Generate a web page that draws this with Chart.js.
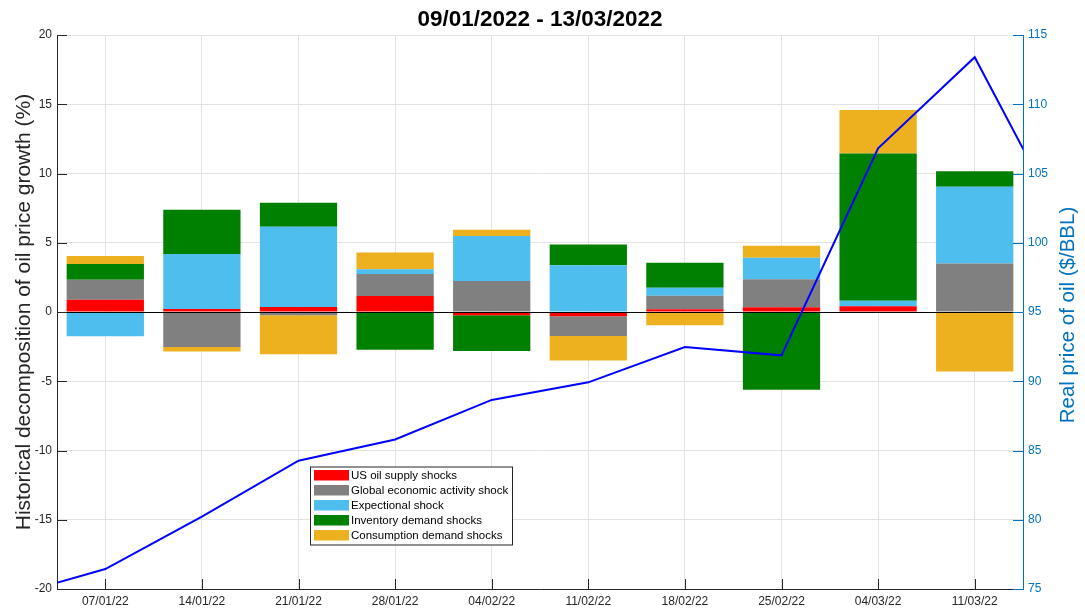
<!DOCTYPE html>
<html>
<head>
<meta charset="utf-8">
<script src="https://cdn.jsdelivr.net/npm/chart.js@4.4.1/dist/chart.umd.min.js"></script>
<style>
html,body{margin:0;padding:0;background:#fff;}
#wrap{width:1085px;height:609px;}
</style>
</head>
<body>
<div id="wrap"><canvas id="c" width="1085" height="609"></canvas></div>
<script>
// ---- data ----
const chartTitle = '09/01/2022 - 13/03/2022';
const weeks = ['07/01/22','14/01/22','21/01/22','28/01/22','04/02/22','11/02/22','18/02/22','25/02/22','04/03/22','11/03/22'];
const usSupply       = [0.89, 0.22, 0.36, 1.15, -0.24, -0.31, 0.19, 0.34, 0.41, 0.00];
const globalActivity = [1.44, -2.52, -0.24, 1.59, 2.24, -1.42, 0.99, 2.02, 0.00, 3.51];
const expectational  = [-1.75, 3.96, 5.79, 0.34, 3.24, 3.37, 0.57, 1.56, 0.41, 5.53];
const inventory      = [1.13, 3.20, 1.73, -2.72, -2.57, 1.51, 1.81, -5.62, 10.62, 1.13];
const consumption    = [0.58, -0.34, -2.81, 1.22, 0.46, -1.78, -0.96, 0.86, 3.15, -4.30];
const seriesNames = ['US oil supply shocks','Global economic activity shock','Expectional shock','Inventory demand shocks','Consumption demand shocks'];
const priceWeeks  = [-1, 0, 1, 2, 3, 4, 5, 6, 7, 8, 9, 10];
const priceValues = [74.46, 76.44, 80.22, 84.26, 85.80, 88.65, 89.92, 92.47, 91.87, 106.82, 113.40, 100.20];
const leftTickStep = 5, leftMin = -20, leftMax = 20;
const rightMin = 75, rightMax = 115;
const leftTitle = 'Historical decomposition of oil price growth (%)';
const rightTitle = 'Real price of oil ($/BBL)';

// ---- styles ----
const FONT = "'Liberation Sans', Arial, Helvetica, sans-serif";
const AX = '#262626';
const BLUE_AX = '#0072BD';
const GRID = '#e3e3e3';
const colors = ['#FF0000', '#808080', '#4DBEEE', '#008000', '#EDB120'];
Chart.defaults.font.family = FONT;

const barSeries = [usSupply, globalActivity, expectational, inventory, consumption];
const datasets = barSeries.map((vals, i) => ({
  type: 'bar',
  label: seriesNames[i],
  data: vals,
  backgroundColor: colors[i],
  borderWidth: 0,
  barPercentage: 0.8,
  categoryPercentage: 1.0,
  grouped: false,
  stack: 'shocks',
  xAxisID: 'x',
  yAxisID: 'y',
  order: 1
}));
datasets.push({
  type: 'line',
  label: 'Real price of oil',
  data: priceWeeks.map((w, i) => ({x: w, y: priceValues[i]})),
  borderColor: '#0000FF',
  borderWidth: 2,
  pointRadius: 0,
  tension: 0,
  fill: false,
  xAxisID: 'xLine',
  yAxisID: 'yR',
  order: 0
});

const baselinePlugin = {
  id: 'baseline',
  afterDatasetDraw(chart, args) {
    if (args.index !== 0) return;
    const {ctx, chartArea: a, scales} = chart;
    const y = Math.round(scales.y.getPixelForValue(0)) + 0.5;
    ctx.save();
    ctx.strokeStyle = '#000';
    ctx.lineWidth = 1.2;
    ctx.beginPath(); ctx.moveTo(a.left, y); ctx.lineTo(a.right, y); ctx.stroke();
    ctx.restore();
  }
};

const decorPlugin = {
  id: 'decor',
  afterDraw(chart) {
    const {ctx, chartArea: a, scales} = chart;
    ctx.save();
    ctx.lineWidth = 1;
    const TL = 10;
    ctx.strokeStyle = AX;
    scales.y.ticks.forEach(t => {
      const y = Math.round(scales.y.getPixelForValue(t.value)) + 0.5;
      ctx.beginPath(); ctx.moveTo(a.left, y); ctx.lineTo(a.left + TL, y); ctx.stroke();
    });
    scales.x.ticks.forEach((t, i) => {
      const x = Math.round(scales.x.getPixelForTick(i)) + 0.5;
      ctx.beginPath(); ctx.moveTo(x, a.bottom); ctx.lineTo(x, a.bottom - TL); ctx.stroke();
    });
    ctx.strokeStyle = BLUE_AX;
    scales.yR.ticks.forEach(t => {
      const y = Math.round(scales.yR.getPixelForValue(t.value)) + 0.5;
      ctx.beginPath(); ctx.moveTo(a.right, y); ctx.lineTo(a.right - TL, y); ctx.stroke();
    });
    // right axis title (reads bottom to top)
    ctx.fillStyle = BLUE_AX;
    ctx.font = '20.5px ' + FONT;
    ctx.textAlign = 'center';
    ctx.textBaseline = 'middle';
    ctx.translate(a.right + 45, (a.top + a.bottom) / 2 + 3);
    ctx.rotate(-Math.PI / 2);
    ctx.fillText(rightTitle, 0, 0);
    ctx.restore();

    // legend box
    ctx.save();
    const lx = a.left + 253.5, ly = a.top + 432, lw = 202, lh = 78;
    ctx.fillStyle = '#fff';
    ctx.fillRect(lx, ly, lw, lh);
    ctx.strokeStyle = AX;
    ctx.lineWidth = 1;
    ctx.strokeRect(lx, ly, lw, lh);
    ctx.font = '11.5px ' + FONT;
    ctx.textAlign = 'left';
    ctx.textBaseline = 'middle';
    chart.data.datasets.forEach((ds, i) => {
      if (ds.type !== 'bar') return;
      const ry = ly + 3 + i * 15;
      ctx.fillStyle = ds.backgroundColor;
      ctx.fillRect(lx + 3.5, ry, 35, 10.5);
      ctx.fillStyle = '#000';
      ctx.fillText(ds.label, lx + 40.5, ry + 5.5);
    });
    ctx.restore();
  }
};

new Chart(document.getElementById('c'), {
  data: { labels: weeks, datasets },
  options: {
    responsive: false,
    animation: false,
    layout: { padding: 0 },
    plugins: {
      legend: { display: false },
      tooltip: { enabled: false },
      title: {
        display: true,
        text: chartTitle,
        fullSize: false,
        color: '#000',
        font: { size: 22.5, weight: 'bold', family: FONT, lineHeight: 1.2 },
        padding: { top: 6, bottom: 2 }
      }
    },
    scales: {
      x: {
        type: 'category',
        stacked: true,
        offset: true,
        grid: { offset: false, color: GRID, drawTicks: false },
        border: { color: AX },
        ticks: { color: AX, font: { size: 12 }, padding: 5, maxRotation: 0, autoSkip: false },
        afterFit: s => { s.height = 20; }
      },
      xLine: {
        type: 'linear',
        display: false,
        offset: false,
        min: -0.5,
        max: weeks.length - 0.5
      },
      y: {
        position: 'left',
        stacked: true,
        min: leftMin,
        max: leftMax,
        grid: { color: GRID, drawTicks: false },
        border: { color: AX },
        ticks: { stepSize: leftTickStep, color: AX, font: { size: 12 }, padding: 5 },
        title: { display: true, text: leftTitle, color: AX, font: { size: 21 }, padding: { top: 12, bottom: 0 } },
        afterFit: s => { s.width = 57; }
      },
      yR: {
        position: 'right',
        min: rightMin,
        max: rightMax,
        grid: { drawOnChartArea: false, drawTicks: false },
        border: { color: BLUE_AX },
        ticks: { stepSize: leftTickStep, color: BLUE_AX, font: { size: 12 }, padding: 5 },
        afterFit: s => { s.width = 62; }
      }
    }
  },
  plugins: [baselinePlugin, decorPlugin]
});
</script>
</body>
</html>
